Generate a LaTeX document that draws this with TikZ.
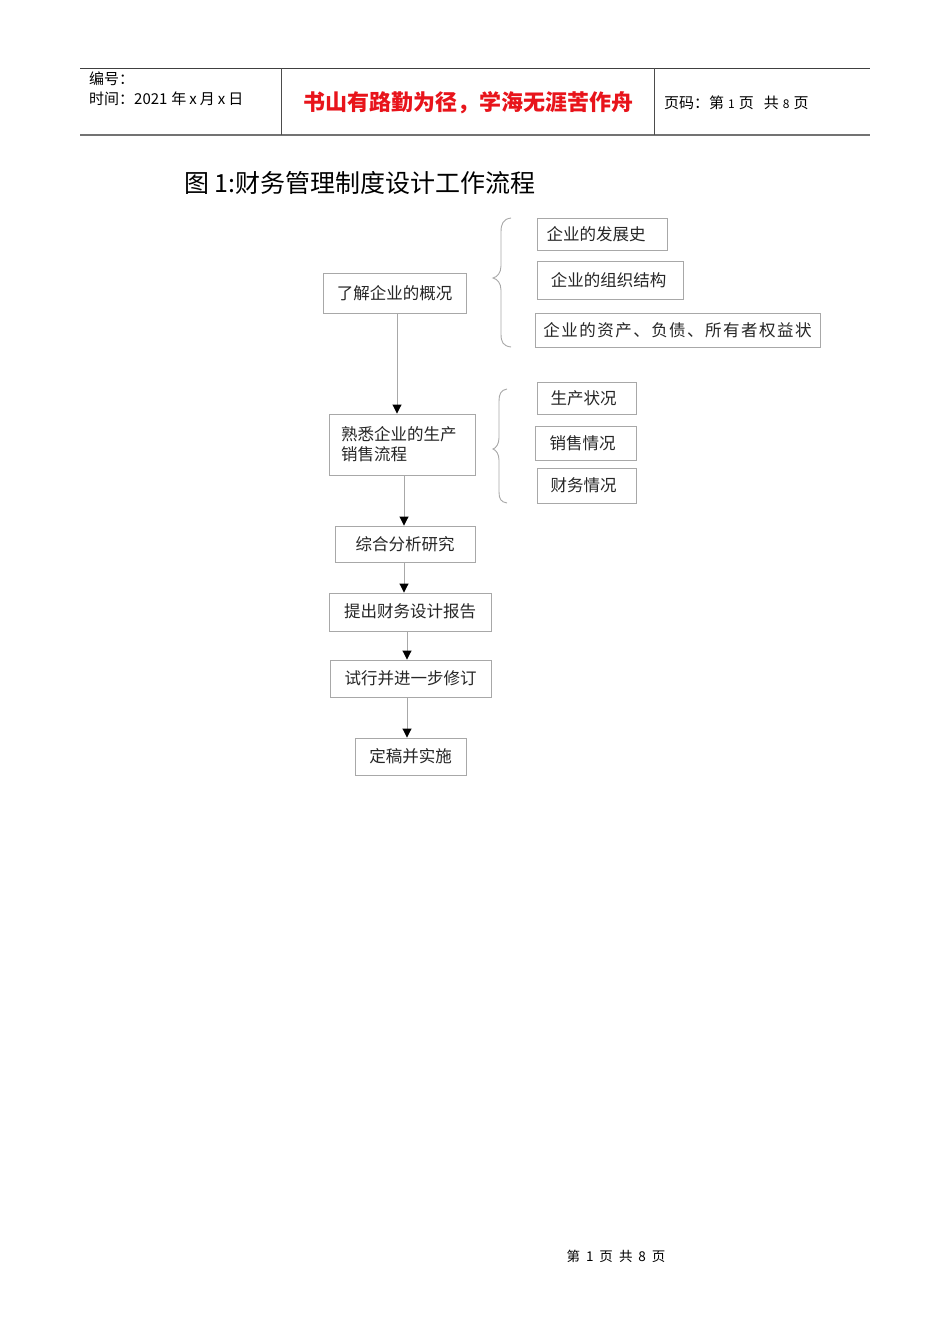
\documentclass[tikz,border=0pt]{standalone}
\usepackage{fontspec}
\setmainfont{Noto Sans CJK SC}
\newfontfamily\cjk{Noto Sans CJK SC}
\usetikzlibrary{arrows.meta,calc}
\definecolor{boxgray}{HTML}{A8A8A8}
\definecolor{hdrred}{HTML}{E8141B}
\tikzset{
  box/.style={draw=boxgray, line width=0.9pt, inner sep=0pt, font=\cjk\fontsize{16.5}{20}\selectfont, text=black!85},
  arr/.style={draw=boxgray, line width=0.9pt, -{Triangle[length=9pt,width=9pt,color=black,fill=black]}},
  brace/.style={draw=boxgray, line width=0.9pt},
  hdr/.style={anchor=west, inner sep=0pt, font=\cjk\fontsize{15}{18}\selectfont},
}
\begin{document}
\begin{tikzpicture}[x=1pt,y=-1pt]
\useasboundingbox (0,0) rectangle (950,1344);
\fill[white] (0,0) rectangle (950,1344);
% header
\draw[black!75, line width=0.8pt] (80,68) -- (870,68);
\draw[black!55, line width=1.8pt] (80,135) -- (870,135);
\draw[black!70, line width=0.8pt] (281,68) -- (281,135);
\draw[black!70, line width=0.8pt] (654,68) -- (654,135);
\node[hdr] (h1) at (89,79) {编号：};
\node[hdr] (h2) at (89,99) {时间：2021\hspace{4pt}年\hspace{3pt}x\hspace{3pt}月\hspace{3pt}x\hspace{3pt}日};
\node[inner sep=0pt, font=\cjk\bfseries\fontsize{22}{26}\selectfont, text=hdrred] (h3) at (468,103) {书山有路勤为径，学海无涯苦作舟};
\node[hdr] (h4) at (664,103) {页码：第\hspace{4pt}{\fontsize{12}{14}\selectfont 1}\hspace{4pt}页\hspace{10pt}共\hspace{4pt}{\fontsize{12}{14}\selectfont 8}\hspace{4pt}页};
% title
\node[anchor=west, inner sep=0pt, font=\cjk\fontsize{25}{30}\selectfont] (title) at (184,183) {图 1:财务管理制度设计工作流程};
% main boxes
\node[box, minimum width=143pt, minimum height=40pt] (a) at (394.5,293) {\raisebox{2pt}{了解企业的概况}};
\node[box, minimum width=146pt, minimum height=61pt, align=left, text width=122pt] (b) at (402,444.5) {\raisebox{3pt}{熟悉企业的生产}\\\raisebox{3pt}{销售流程}};
\node[box, minimum width=140pt, minimum height=36pt] (c) at (405,544) {\raisebox{1pt}{综合分析研究}};
\node[box, minimum width=162pt, minimum height=38pt] (d) at (410,612) {\raisebox{2pt}{提出财务设计报告}};
\node[box, minimum width=161pt, minimum height=37pt] (e) at (410.5,678.5) {\raisebox{1pt}{试行并进一步修订}};
\node[box, minimum width=111pt, minimum height=37pt] (f) at (410.5,756.5) {\raisebox{1pt}{定稿并实施}};
% side boxes group 1
\node[box, minimum width=130pt, minimum height=32pt] (a1) at (602,234) {\hspace{-12pt}企业的发展史};
\node[box, minimum width=146pt, minimum height=38pt] (a2) at (610,280) {\raisebox{2pt}{\hspace{-3pt}企业的组织结构}};
\node[box, minimum width=285pt, minimum height=34pt] (a3) at (677.5,330) {\addfontfeature{LetterSpace=9}企业的资产、负债、所有者权益状};
% side boxes group 2
\node[box, minimum width=99pt, minimum height=32pt] (b1) at (586.5,398) {\hspace{-6pt}生产状况};
\node[box, minimum width=101pt, minimum height=34pt] (b2) at (585.5,443) {\hspace{-6pt}销售情况};
\node[box, minimum width=99pt, minimum height=35pt] (b3) at (586.5,485.5) {\hspace{-6pt}财务情况};
% braces
\draw[brace] (511,218) .. controls (503,219) and (501,224) .. (501,232)
  -- (501,266) .. controls (501,273) and (497,277) .. (493,278)
  .. controls (497,279) and (501,283) .. (501,290)
  -- (501,334) .. controls (501,342) and (503,346) .. (511,347);
\draw[brace] (507,389) .. controls (501,390) and (499,394) .. (499,401)
  -- (499,438) .. controls (499,444) and (496,448) .. (493,449)
  .. controls (496,450) and (499,454) .. (499,460)
  -- (499,492) .. controls (499,499) and (501,502) .. (507,503);
% arrows
\draw[arr] ($(a.south)+(2.5,0)$) -- ($(a.south |- b.north)+(2.5,0)$);
\draw[arr] ($(b.south)+(2,0)$) -- ($(b.south |- c.north)+(2,0)$);
\draw[arr] ($(c.south)+(-1,0)$) -- ($(c.south |- d.north)+(-1,0)$);
\draw[arr] ($(d.south)+(-3,0)$) -- ($(d.south |- e.north)+(-3,0)$);
\draw[arr] ($(e.south)+(-3.5,0)$) -- ($(e.south |- f.north)+(-3.5,0)$);
% footer
\node[inner sep=0pt, font=\cjk\fontsize{13.5}{16}\selectfont] (foot) at (616,1256) {第\hspace{6pt}1\hspace{6pt}页\hspace{6pt}共\hspace{6pt}8\hspace{6pt}页};
\end{tikzpicture}
\end{document}
